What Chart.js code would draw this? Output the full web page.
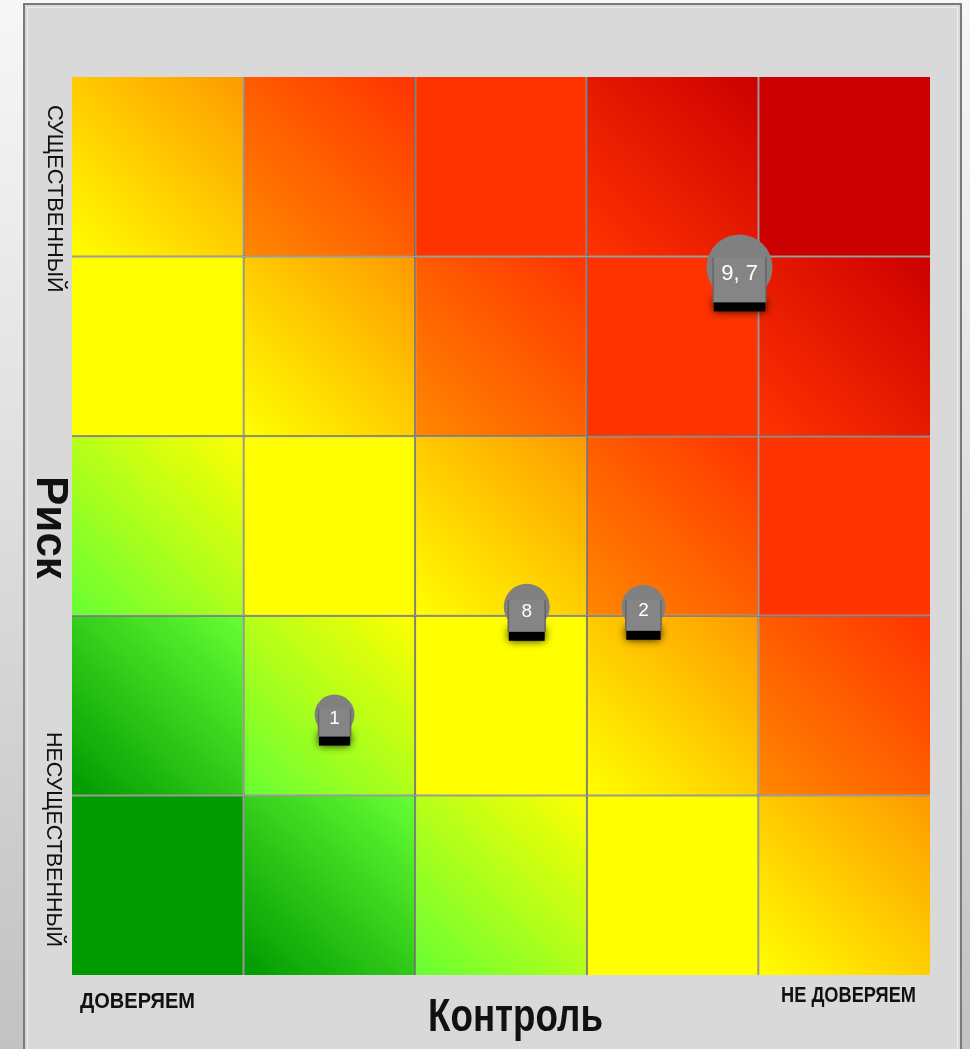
<!DOCTYPE html>
<html>
<head>
    <title>Риск / Контроль</title>
    <meta charset="utf-8">
    <script src="https://cdn.jsdelivr.net/npm/chart.js" type="text/javascript"></script>
    <style>
        body { margin: 0; background: #fff; }
        #wrap { width: 970px; height: 1049px; position: relative; }
    </style>
    <script type="text/javascript">

        // control columns (left = доверяем, right = не доверяем)
        var controlCols = ['1', '2', '3', '4', '5'];
        // risk rows from bottom (несущественный) to top (существенный)
        var riskRows = ['1', '2', '3', '4', '5'];

        // heat level of every cell, rows listed bottom -> top
        var cellLevels = [
            [0, 1, 2, 3, 4],
            [1, 2, 3, 4, 5],
            [2, 3, 4, 5, 6],
            [3, 4, 5, 6, 7],
            [4, 5, 6, 7, 8]
        ];

        // gradient stops for each level (bottom-left -> top-right of a cell)
        var levelFrom = ['#009900', '#009900', '#66ff33', '#ffff00', '#ffff00', '#ff8800', '#ff3300', '#ff3300', '#cc0000'];
        var levelTo   = ['#009900', '#66ff33', '#ffff00', '#ffff00', '#ff9900', '#ff3300', '#ff3300', '#cc0000', '#cc0000'];

        // markers
        var pointLabels = ['9, 7', '8', '2', '1'];
        var pointX = [3.89, 2.65, 3.33, 1.53];
        var pointY = [3.94, 2.05, 2.05, 1.45];
        var pointR = [33, 23, 22, 20];

        var lineColor = '#555550';
        var fontFamily = '"Liberation Sans", Arial, sans-serif';

        function cellGradient(context) {
            var chart = context.chart;
            var sx = chart.scales.x2, sy = chart.scales.y;
            var row = context.datasetIndex, col = context.dataIndex;
            var lvl = cellLevels[row][col];
            if (!chart.chartArea || !sx || !sy) return levelFrom[lvl];
            var x0 = sx.getPixelForValue(col), x1 = sx.getPixelForValue(col + 1);
            var y0 = sy.getPixelForValue(row), y1 = sy.getPixelForValue(row + 1);
            var g = chart.ctx.createLinearGradient(x0, y0, x1, y1);
            g.addColorStop(0, levelFrom[lvl]);
            g.addColorStop(1, levelTo[lvl]);
            return g;
        }

        // only the inner edges of the matrix get a line
        function cellBorder(context) {
            var row = context.datasetIndex, col = context.dataIndex;
            return {
                left: col > 0 ? 1 : 0,
                right: col < controlCols.length - 1 ? 1 : 0,
                bottom: row > 0 ? 1 : 0,
                top: row < riskRows.length - 1 ? 1 : 0
            };
        }

        // draws text squeezed to a given width
        function fitText(ctx, text, x, y, weight, size, width, align) {
            ctx.save();
            ctx.font = weight + ' ' + size + 'px ' + fontFamily;
            var w = ctx.measureText(text).width;
            ctx.translate(x, y);
            ctx.scale(width / w, 1);
            ctx.textAlign = align;
            ctx.textBaseline = 'alphabetic';
            ctx.fillText(text, 0, 0);
            ctx.restore();
        }

        // rotated (reading downwards) text fitted to a length
        function sideText(ctx, text, x, yTop, weight, length) {
            ctx.save();
            ctx.font = weight + ' 100px ' + fontFamily;
            var size = 100 * length / ctx.measureText(text).width;
            ctx.font = weight + ' ' + size.toFixed(1) + 'px ' + fontFamily;
            ctx.translate(x, yTop);
            ctx.rotate(Math.PI / 2);
            ctx.textAlign = 'left';
            ctx.textBaseline = 'alphabetic';
            ctx.fillStyle = '#111';
            ctx.fillText(text, 0, 0);
            ctx.restore();
        }

        var backdrop = {
            id: 'backdrop',
            beforeDraw: function (chart) {
                var ctx = chart.ctx;
                ctx.save();
                var bg = ctx.createLinearGradient(0, 0, 0, chart.height);
                bg.addColorStop(0, '#f7f7f7');
                bg.addColorStop(1, '#c2c2c2');
                ctx.fillStyle = bg;
                ctx.fillRect(0, 0, chart.width, chart.height);
                ctx.fillStyle = '#d9d9d9';
                ctx.fillRect(24, 4, 937, chart.height);
                ctx.strokeStyle = '#7a7a7a';
                ctx.lineWidth = 2;
                ctx.strokeRect(24, 4, 937, chart.height + 10);
                ctx.strokeStyle = 'rgba(255,255,255,0.5)';
                ctx.lineWidth = 1;
                ctx.strokeRect(27.5, 7.5, 930, chart.height + 10);
                ctx.restore();
            },
            afterDraw: function (chart) {
                var ctx = chart.ctx;
                ctx.save();
                ctx.fillStyle = '#111';
                fitText(ctx, 'ДОВЕРЯЕМ', 80, 1008, 'bold', 22, 115, 'left');
                fitText(ctx, 'НЕ ДОВЕРЯЕМ', 781, 1002, 'bold', 22, 135, 'left');
                fitText(ctx, 'Контроль', 428, 1031, 'bold', 46, 175, 'left');
                sideText(ctx, 'СУЩЕСТВЕННЫЙ', 48, 105, 'normal', 188);
                sideText(ctx, 'Риск', 37, 476, 'bold', 103);
                sideText(ctx, 'НЕСУЩЕСТВЕННЫЙ', 47, 732, 'normal', 215);
                ctx.restore();
            }
        };

        var badges = {
            id: 'badges',
            beforeDatasetDraw: function (chart, args) {
                if (chart.data.datasets[args.index].type !== 'bubble') return;
                var ctx = chart.ctx;
                args.meta.data.forEach(function (pt) {
                    var r = pt.options.radius;
                    ctx.save();
                    ctx.shadowColor = 'rgba(0,0,0,0.9)';
                    ctx.shadowBlur = 8;
                    ctx.fillStyle = '#000';
                    ctx.fillRect(pt.x - 0.78 * r, pt.y + r - 2, 1.56 * r, 13);
                    ctx.restore();
                });
            },
            afterDatasetDraw: function (chart, args) {
                if (chart.data.datasets[args.index].type !== 'bubble') return;
                var ctx = chart.ctx;
                args.meta.data.forEach(function (pt, i) {
                    var r = pt.options.radius;
                    var left = pt.x - 0.8 * r, top = pt.y - 0.3 * r, w = 1.6 * r, h = 1.3 * r + 2;
                    ctx.save();
                    ctx.fillStyle = '#858585';
                    ctx.fillRect(left, top, w, h);
                    ctx.strokeStyle = '#666';
                    ctx.lineWidth = 1.5;
                    ctx.beginPath();
                    ctx.moveTo(left, top); ctx.lineTo(left, top + h);
                    ctx.moveTo(left + w, top); ctx.lineTo(left + w, top + h);
                    ctx.stroke();
                    ctx.fillStyle = '#fff';
                    ctx.font = (r > 28 ? 22 : 19) + 'px ' + fontFamily;
                    ctx.textAlign = 'center';
                    ctx.textBaseline = 'middle';
                    ctx.fillText(pointLabels[i], pt.x, pt.y + 0.2 * r);
                    ctx.restore();
                });
            }
        };

        window.onload = function () {
            var cellSets = riskRows.map(function (r, i) {
                return {
                    type: 'bar',
                    label: 'risk ' + r,
                    data: controlCols.map(function () { return 1; }),
                    backgroundColor: cellGradient,
                    borderColor: lineColor,
                    borderWidth: cellBorder,
                    borderSkipped: false,
                    inflateAmount: 0,
                    barPercentage: 1,
                    categoryPercentage: 1,
                    grouped: false,
                    order: 2,
                    xAxisID: 'x',
                    yAxisID: 'y'
                };
            });

            var markerSet = {
                type: 'bubble',
                label: 'markers',
                data: pointX.map(function (x, i) { return { x: x, y: pointY[i], r: pointR[i] }; }),
                backgroundColor: '#808080',
                borderWidth: 0,
                order: 0,
                xAxisID: 'x2',
                yAxisID: 'y'
            };

            var ctx = document.getElementById('matrix').getContext('2d');
            new Chart(ctx, {
                type: 'bar',
                data: {
                    labels: controlCols,
                    datasets: cellSets.concat([markerSet])
                },
                options: {
                    responsive: true,
                    maintainAspectRatio: false,
                    animation: false,
                    layout: { padding: { left: 72, top: 77, right: 40, bottom: 74 } },
                    plugins: { legend: { display: false }, tooltip: { enabled: false } },
                    scales: {
                        x: { type: 'category', display: false, stacked: true, offset: true },
                        x2: {
                            type: 'linear', position: 'bottom', min: 0, max: 5, offset: false,
                            ticks: { display: false, stepSize: 1 },
                            grid: { display: false, drawTicks: false, offset: false },
                            border: { display: false }
                        },
                        y: {
                            type: 'linear', min: 0, max: 5, stacked: true,
                            ticks: { display: false, stepSize: 1 },
                            grid: { display: false, drawTicks: false },
                            border: { display: false }
                        }
                    }
                },
                plugins: [backdrop, badges]
            });
        };

    </script>
</head>
<body>
    <div id="wrap"><canvas id="matrix"></canvas></div>
</body>
</html>
